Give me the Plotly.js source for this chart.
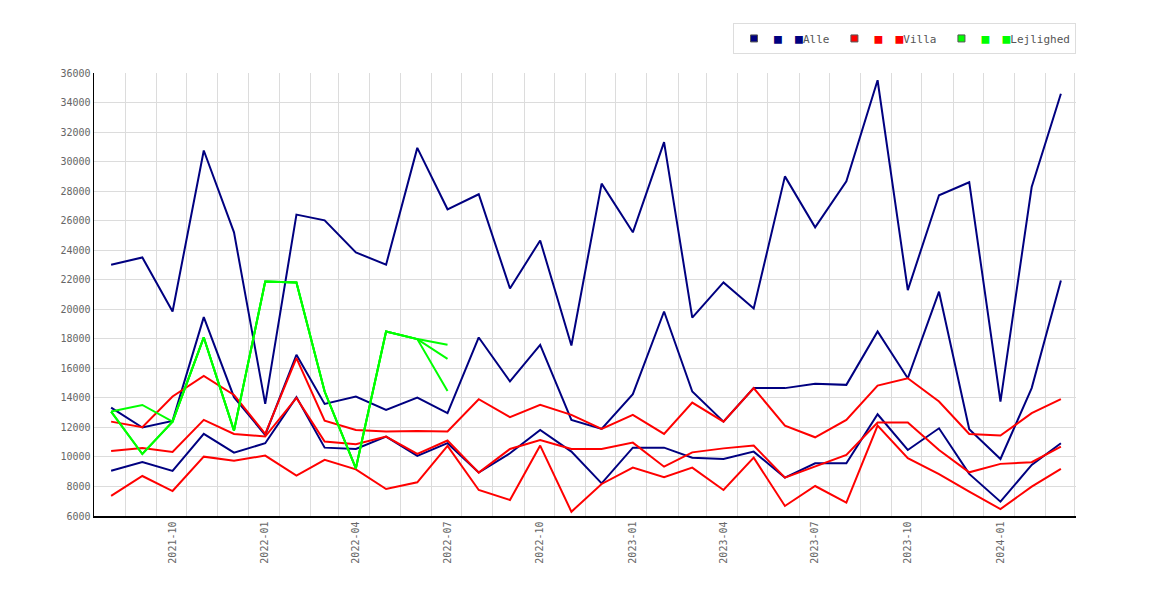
<!DOCTYPE html>
<html>
<head>
<meta charset="utf-8">
<script src="https://cdn.plot.ly/plotly-3.0.1.min.js"></script>
<style>
  html, body { margin: 0; padding: 0; background: #fff; }
  #chart { width: 1170px; height: 600px; }
</style>
</head>
<body>
<div id="chart"></div>
<script>
var months = [
  '2021-08', '2021-09', '2021-10', '2021-11', '2021-12',
  '2022-01', '2022-02', '2022-03', '2022-04', '2022-05', '2022-06',
  '2022-07', '2022-08', '2022-09', '2022-10', '2022-11', '2022-12',
  '2023-01', '2023-02', '2023-03', '2023-04', '2023-05', '2023-06',
  '2023-07', '2023-08', '2023-09', '2023-10', '2023-11', '2023-12',
  '2024-01', '2024-02', '2024-03'
];

// Alle
var alleHigh = [23020, 23510, 19850, 30750, 25210, 13590, 26410, 26020, 23850, 23020, 30930,
  26770, 27790, 21410, 24660, 17550, 28510, 25210, 31320, 19440, 21820, 20050, 29000,
  25550, 28670, 35510, 21300, 27720, 28600, 13750, 28280, 34590];
var alleMid = [13340, 11990, 12440, 19470, 14050, 11490, 16920, 13590, 14090, 13190, 14020,
  12960, 18090, 15110, 17590, 12510, 11900, 14250, 19850, 14430, 12390, 14660, 14660,
  14950, 14880, 18500, 15330, 21190, 11880, 9860, 14660, 21950];
var alleLow = [9070, 9660, 9050, 11560, 10290, 10930, 14050, 10630, 10540, 11380, 10070,
  10930, 8940, 10250, 11830, 10360, 8210, 10630, 10630, 9950, 9860, 10360, 8600,
  9570, 9570, 12890, 10470, 11940, 8850, 6970, 9460, 10930];

// Villa
var villaHigh = [12390, 12010, 14090, 15490, 14200, 11560, 16690, 12460, 11830, 11720, 11760,
  11720, 13910, 12690, 13530, 12850, 11900, 12850, 11560, 13680, 12390, 14660, 12120,
  11330, 12510, 14830, 15330, 13750, 11560, 11450, 12960, 13910];
var villaMid = [10410, 10610, 10340, 12510, 11560, 11380, 14000, 11040, 10860, 11380, 10200,
  11110, 8940, 10540, 11150, 10540, 10540, 10970, 9340, 10310, 10580, 10770, 8600,
  9340, 10140, 12330, 12330, 10470, 8960, 9530, 9640, 10700];
var villaLow = [7360, 8710, 7690, 10020, 9750, 10090, 8730, 9800, 9160, 7830, 8280,
  10750, 7760, 7080, 10770, 6290, 8170, 9280, 8620, 9280, 7760, 9950, 6680,
  8030, 6900, 12120, 9910, 8830, 7650, 6470, 7990, 9190];

// Lejlighed (only the first twelve months)
var lejHigh = [13070, 13520, 12390, 18090, 11780, 21880, 21820, 14430, 9230, 18500, 17980, 17590];
var lejMid = [13070, 10200, 12390, 18090, 11780, 21880, 21820, 14430, 9230, 18500, 17980, 16640];
var lejLow = [13070, 10200, 12390, 18090, 11780, 21880, 21820, 14430, 9230, 18500, 17980, 14470];

var groupNames = ['Alle', 'Villa', 'Lejlighed'];
var groupColors = ['#000080', '#ff0000', '#00ff00'];

var monoFont = 'DejaVu Sans Mono, Liberation Mono, monospace';

function toDates(list) {
  return list.map(function(m) { return m + '-01'; });
}

function lineTrace(values, color) {
  return {
    x: toDates(months.slice(0, values.length)),
    y: values,
    type: 'scatter',
    mode: 'lines',
    line: { color: color, width: 2 },
    showlegend: false,
    hoverinfo: 'x+y',
  };
}

// one legend entry per group: the real symbol, then two more squares drawn as text
function legendTrace(i) {
  var c = groupColors[i];
  var sq = '<span style="color:' + c + ';font-size:13px">■</span>';
  return {
    x: [null],
    y: [null],
    type: 'scatter',
    mode: 'markers',
    name: sq + '  ' + sq + groupNames[i],
    marker: { symbol: 'square', size: 7, color: c, line: { color: '#555', width: 1 } },
    showlegend: true,
    hoverinfo: 'skip',
  };
}

var traces = [
  lineTrace(alleHigh, groupColors[0]),
  lineTrace(alleMid, groupColors[0]),
  lineTrace(alleLow, groupColors[0]),
  lineTrace(villaHigh, groupColors[1]),
  lineTrace(villaMid, groupColors[1]),
  lineTrace(villaLow, groupColors[1]),
  lineTrace(lejHigh, groupColors[2]),
  lineTrace(lejMid, groupColors[2]),
  lineTrace(lejLow, groupColors[2]),
  legendTrace(0),
  legendTrace(1),
  legendTrace(2),
];

var gridColor = '#dcdcdc';

var layout = {
  width: 1170,
  height: 600,
  margin: { t: 73, r: 94, b: 84, l: 94 },
  paper_bgcolor: '#ffffff',
  plot_bgcolor: '#ffffff',
  font: { family: monoFont, size: 10, color: '#666' },
  xaxis: {
    type: 'date',
    range: ['2021-07-15', '2024-03-16'],
    tick0: '2021-10-01',
    dtick: 'M3',
    tickformat: '%Y-%m',
    tickangle: -90,
    tickfont: { family: monoFont, size: 10, color: '#666' },
    showgrid: false,
    minor: { dtick: 'M1', tick0: '2021-07-15', showgrid: true, gridcolor: gridColor, gridwidth: 1 },
    showline: true,
    linecolor: '#000',
    linewidth: 1.5,
    zeroline: false,
    ticks: '',
  },
  yaxis: {
    range: [6000, 36000],
    dtick: 2000,
    tickformat: 'd',
    tickfont: { family: monoFont, size: 10, color: '#666' },
    showgrid: true,
    gridcolor: gridColor,
    gridwidth: 1,
    showline: true,
    linecolor: '#000',
    linewidth: 1.5,
    zeroline: false,
    ticks: '',
  },
  legend: {
    orientation: 'h',
    xanchor: 'right',
    x: 1,
    yanchor: 'top',
    y: 1.113,
    bgcolor: '#ffffff',
    bordercolor: '#dddddd',
    borderwidth: 1,
    font: { family: monoFont, size: 11, color: '#555' },
    itemwidth: 30,
    tracegroupgap: 0,
  },
  hovermode: 'closest',
  showlegend: true,
};

Plotly.newPlot('chart', traces, layout, { displayModeBar: false, staticPlot: true });
</script>
</body>
</html>
